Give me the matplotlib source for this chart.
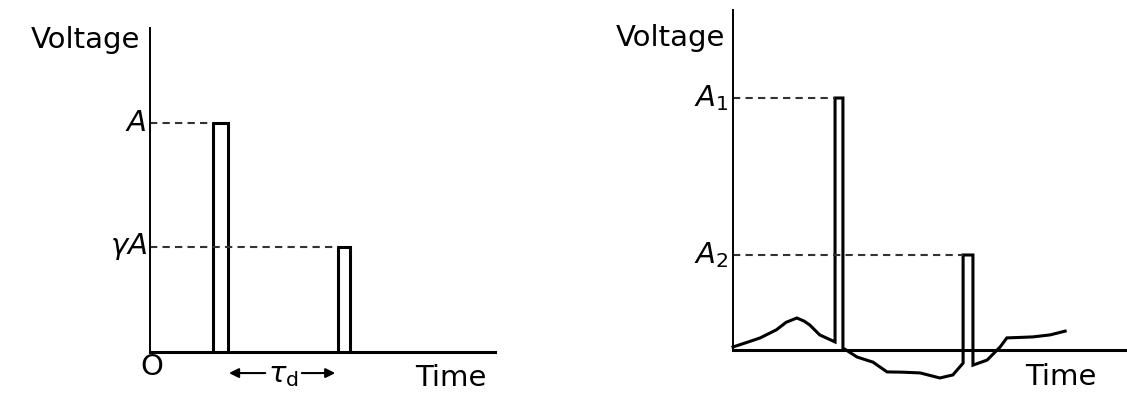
import matplotlib.pyplot as plt

# ! Left panel: ideal echo pair
pulse_start = [1.83, 5.45]
pulse_width = [0.43, 0.35]
gamma = 0.46
pulse_height = [1.0, gamma]
left_labels = ["$A$", r"$\gamma A$"]

# ! Right panel: measured trace (time, voltage)
trace_t = [0.0, 0.35, 0.69, 1.1, 1.35, 1.62, 1.8, 1.95, 2.2, 2.59,
           2.59, 2.79, 2.79, 3.15, 3.55, 3.91, 4.3, 4.75, 5.25, 5.58, 5.84,
           5.84, 6.09, 6.09, 6.45, 6.78, 6.95, 7.3, 7.61, 8.05, 8.43]
trace_v = [0.012, 0.03, 0.048, 0.08, 0.11, 0.127, 0.115, 0.099, 0.06, 0.032,
           1.0, 1.0, 0.008, -0.028, -0.048, -0.087, -0.088, -0.091, -0.111, -0.099, -0.052,
           0.377, 0.377, -0.06, -0.04, 0.012, 0.048, 0.05, 0.052, 0.06, 0.075]
A1, A2 = 1.0, 0.377
A1_t, A2_t = 2.59, 5.84

fig = plt.figure(figsize=(11.27, 3.97), dpi=100)
ax1 = fig.add_axes([150/1127, 45/397, 345/1127, 324/397])
ax2 = fig.add_axes([733/1127, 47/397, 394/1127, 340/397])

for ax in (ax1, ax2):
    for s in ("top", "right"):
        ax.spines[s].set_visible(False)
    ax.spines["left"].set_linewidth(1.4)
    ax.spines["bottom"].set_linewidth(2.2)
    ax.set_xticks([])
    ax.set_yticks([])
    ax.patch.set_alpha(0)

dash = (0, (3.5, 2.5))
fs = 21

# left panel
ax1.set_xlim(0, 10)
ax1.set_ylim(0, 1.415)
for t, w, h, lab in zip(pulse_start, pulse_width, pulse_height, left_labels):
    ax1.plot([t, t, t + w, t + w], [0, h, h, 0], color="black", lw=2.2,
             solid_joinstyle="miter")
    ax1.plot([0, t], [h, h], color="#333333", lw=1.5, linestyle=dash)
    ax1.text(-0.09, h, lab, ha="right", va="center", fontsize=fs)
ax1.text(-0.29, 1.362, "Voltage", ha="right", va="center", fontsize=fs)
ax1.text(0.06, -0.066, "O", ha="center", va="center", fontsize=fs, clip_on=False)
ax1.text(8.72, -0.114, "Time", ha="center", va="center", fontsize=fs)
tau_left = pulse_start[0] + pulse_width[0]
tau_right = pulse_start[1]
tx = 3.87
ax1.text(tx, -0.1, r"$\tau_{\rm d}$", ha="center", va="center", fontsize=fs)
ax1.annotate("", xy=(tau_left - 0.05, -0.092), xytext=(tx - 0.45, -0.092),
             arrowprops=dict(arrowstyle="-|>", color="black", lw=1.5,
                             mutation_scale=14), annotation_clip=False)
ax1.annotate("", xy=(tau_right, -0.092), xytext=(tx + 0.45, -0.092),
             arrowprops=dict(arrowstyle="-|>", color="black", lw=1.5,
                             mutation_scale=14), annotation_clip=False)

# right panel
ax2.set_xlim(0, 10)
ax2.set_ylim(0, 340/252)
ax2.plot(trace_t, trace_v, color="black", lw=2.2, clip_on=False,
         solid_joinstyle="miter")
ax2.plot([0, A1_t], [A1, A1], color="#333333", lw=1.5, linestyle=dash)
ax2.plot([0, A2_t], [A2, A2], color="#333333", lw=1.5, linestyle=dash)
ax2.text(-0.12, A1, "$A_1$", ha="right", va="center", fontsize=fs)
ax2.text(-0.12, A2, "$A_2$", ha="right", va="center", fontsize=fs)
ax2.text(-0.2, 1.238, "Voltage", ha="right", va="center", fontsize=fs)
ax2.text(8.32, -0.107, "Time", ha="center", va="center", fontsize=fs)

fig.savefig("out.png", dpi=100)
